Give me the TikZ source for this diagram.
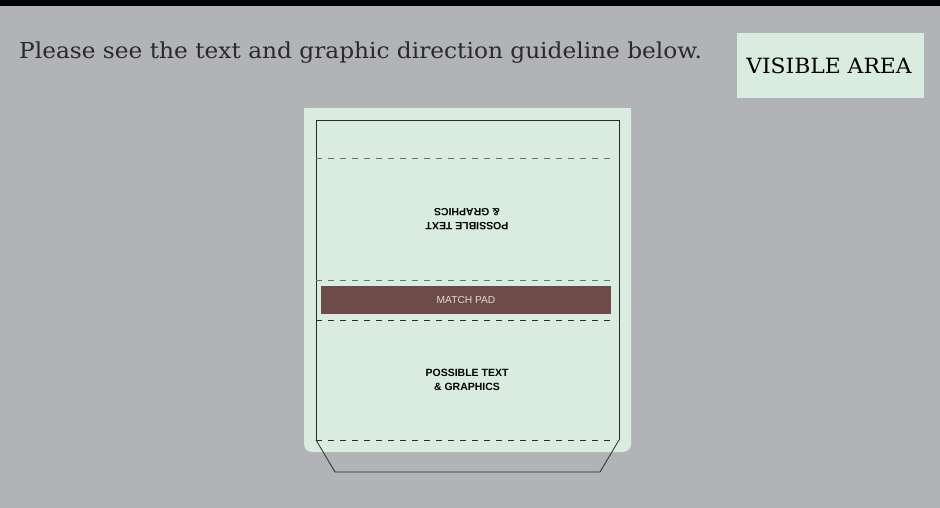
\documentclass[tikz,border=0pt]{standalone}
\usepackage{fontspec}
\setmainfont{DejaVu Serif}
\setsansfont{Liberation Sans}
\usetikzlibrary{calc}
\definecolor{bggray}{HTML}{B1B3B7}
\definecolor{mint}{HTML}{DAECE0}
\definecolor{padbrown}{HTML}{6D4B49}
\definecolor{padtext}{HTML}{E2DADA}
\definecolor{inkdark}{HTML}{2A2A2A}
\definecolor{dashgray}{HTML}{6B706C}
\tikzset{
  fold/.style={draw=dashgray, line width=1pt, dash pattern=on 6pt off 6pt},
  folddark/.style={draw=inkdark, line width=0.9pt, dash pattern=on 6pt off 6pt},
  outline/.style={draw=inkdark, line width=0.8pt},
  guidetext/.style={font=\sffamily\bfseries\fontsize{10.5}{14}\selectfont, align=center, text=black, inner sep=0pt},
}
\begin{document}
\begin{tikzpicture}[x=1pt,y=-1pt]
\useasboundingbox (0,0) rectangle (940,508);
\fill[bggray] (0,0) rectangle (940,508);
\fill[black] (0,0) rectangle (940,6);
% header
\node[anchor=west, inner sep=0pt, text=inkdark] (header) at (19,52.5)
  {\scalebox{1.057}[1]{\fontsize{22}{26}\selectfont Please see the text and graphic direction guideline below.}};
% visible area legend
\fill[mint] (737,33) rectangle (924,98);
\node[inner sep=0pt, text=black] (legend) at (829,66)
  {\scalebox{1.04}[1]{\fontsize{21}{24}\selectfont VISIBLE AREA}};
% visible area
\fill[mint, rounded corners=8pt] (304,108) -- (631,108) -- (631,452) -- (304,452) -- cycle;
\fill[mint] (304,108) rectangle (631,130);
% outline
\draw[outline] (316,440) -- (316,120) -- (619,120) -- (619,440);
\draw[outline] (316,440) -- (335,472) -- (600,472) -- (619,440);
% fold lines
\draw[fold] (316,158.5) -- (616,158.5);
\draw[fold] (316,280) -- (616,280);
\draw[folddark] (316,320) -- (616,320);
\draw[folddark] (316,440) -- (616,440);
% match pad
\fill[padbrown] (321,286) rectangle (611,313.5);
\node[font=\sffamily\fontsize{10.2}{12}\selectfont, text=padtext, inner sep=0pt] (pad) at (466,300) {MATCH PAD};
% texts
\node[guidetext, rotate=180] (upper) at (467,219) {POSSIBLE TEXT\\\& GRAPHICS};
\node[guidetext] (lower) at (467,380) {POSSIBLE TEXT\\\& GRAPHICS};
\end{tikzpicture}
\end{document}
